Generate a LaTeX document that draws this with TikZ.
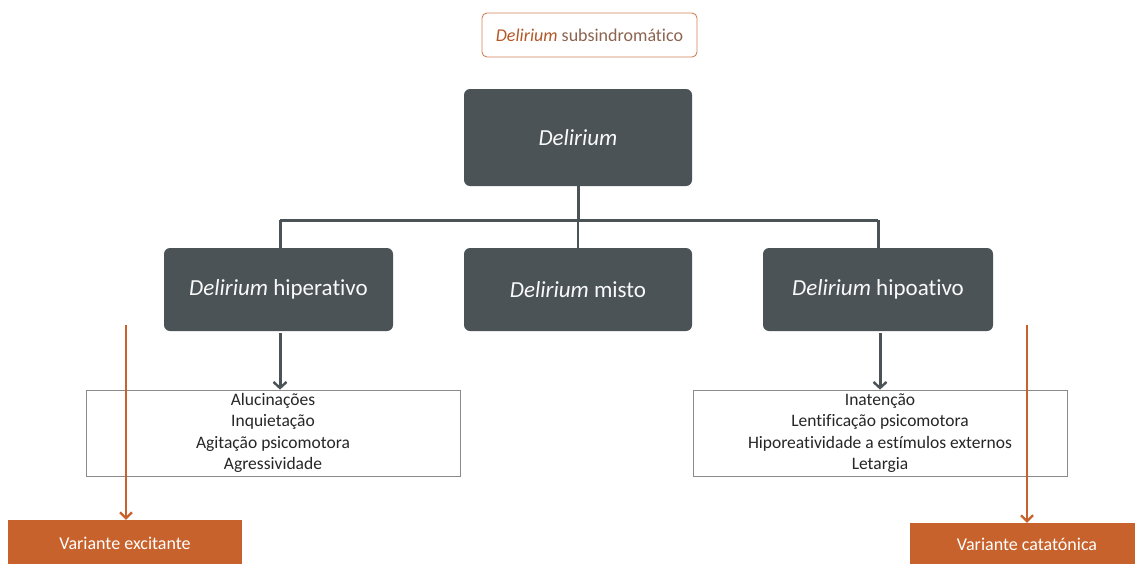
\documentclass[tikz,border=0pt]{standalone}
\usepackage{fontspec}
\setmainfont{Carlito}[Ligatures=NoCommon]
\usetikzlibrary{arrows.meta}
\definecolor{slate}{HTML}{4B5356}
\definecolor{rust}{HTML}{C8622C}
\definecolor{rusttext}{HTML}{8C6450}
\definecolor{listframe}{HTML}{8A8A8A}
\begin{document}
\begin{tikzpicture}[x=1pt,y=-1pt,
  darkbox/.style={draw=none,fill=slate,rounded corners=6pt,text=white!95!gray,font=\fontsize{23}{27}\selectfont,inner sep=0pt},
  listbox/.style={draw=listframe,line width=0.8pt,fill=white,inner sep=0pt,font=\fontsize{17.5}{21.4}\selectfont,align=center,text=black!85},
  varbox/.style={draw=none,fill=rust,text=white,inner sep=0pt,font=\fontsize{18}{21}\selectfont},
  tree/.style={draw=slate,line width=3pt},
  down/.style={draw=slate,line width=3pt,-{Straight Barb[length=6pt,width=13pt,line width=2.4pt]}},
  orangedown/.style={draw=rust,line width=2.4pt,-{Straight Barb[length=6pt,width=12pt,line width=2.2pt]}}]
\useasboundingbox (0,0) rectangle (1135,563);

% top label
\node[draw=rust!80,line width=0.9pt,rounded corners=5pt,fill=white,minimum width=215pt,minimum height=44pt,inner sep=0pt,
  font=\fontsize{18}{21}\selectfont] (sub) at (589.5,35) {\textcolor{rust!90!black}{\itshape Delirium} \textcolor{rusttext}{subsindromático}};

% hierarchy boxes
\node[darkbox,minimum width=228pt,minimum height=97pt] (del) at (578,137.5) {\itshape Delirium};
\node[darkbox,minimum width=229pt,minimum height=83pt] (hiper) at (278.5,289.5) {\textit{Delirium} hiperativo};
\node[darkbox,minimum width=228pt,minimum height=83pt] (misto) at (578,289.5) {\textit{Delirium} misto};
\node[darkbox,minimum width=230pt,minimum height=83pt] (hipo) at (878,289.5) {\textit{Delirium} hipoativo};

% branch coordinates
\coordinate (j) at (578,220);
\coordinate (jl) at (280,220);
\coordinate (jr) at (878,220);

\draw[tree] (del.south) -- (j);
\draw[tree] (jl) -- (jr);
\draw[tree] (jl) -- (jl |- hiper.north);
\draw[tree] (jr) -- (jr |- hipo.north);
\draw[draw=slate,line width=1.2pt] (j) -- (misto.north);

% symptom lists
\node[listbox,minimum width=374pt,minimum height=86pt] (lhi) at (273,433)
  {Alucinações\\Inquietação\\Agitação psicomotora\\Agressividade};
\node[listbox,minimum width=374pt,minimum height=86pt] (lho) at (880,433)
  {Inatenção\\Lentificação psicomotora\\Hiporeatividade a estímulos externos\\Letargia};

\coordinate (al) at (280,333);
\coordinate (ar) at (880,333);
\draw[down] (al) -- (al |- lhi.north);
\draw[down] (ar) -- (ar |- lho.north);

% variants
\node[varbox,minimum width=234pt,minimum height=46pt] (vex) at (125,543) {Variante excitante};
\node[varbox,minimum width=234pt,minimum height=42pt] (vcat) at (1027,544) {Variante catatónica};

\coordinate (ol) at (126,325);
\coordinate (or) at (1027,325);
\draw[orangedown] (ol) -- (ol |- vex.north);
\draw[orangedown] (or) -- (or |- vcat.north);
\end{tikzpicture}
\end{document}
